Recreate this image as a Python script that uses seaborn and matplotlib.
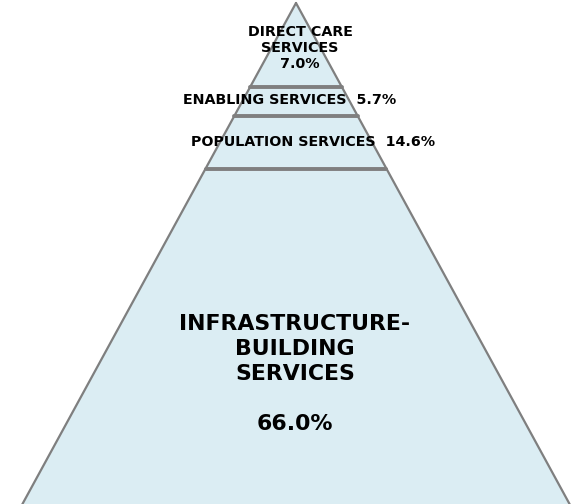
import numpy as np
import matplotlib
matplotlib.use("Agg")
import matplotlib.pyplot as plt
import seaborn as sns

# Data
categories = ["DIRECT CARE\nSERVICES", "ENABLING SERVICES", "POPULATION SERVICES", "INFRASTRUCTURE-\nBUILDING\nSERVICES"]
values = [7.0, 5.7, 14.6, 66.0]
labels = ["DIRECT CARE\nSERVICES\n7.0%", "ENABLING SERVICES  5.7%", "POPULATION SERVICES  14.6%",
          "INFRASTRUCTURE-\nBUILDING\nSERVICES\n\n66.0%"]

sns.set_theme(style="white")
plt.rcParams['font.family'] = ['DejaVu Sans']

W, H = 575, 504
fig = plt.figure(figsize=(W / 100, H / 100), dpi=100)
ax = fig.add_axes([0, 0, 1, 1])
ax.set_xlim(0, W)
ax.set_ylim(H, 0)
ax.axis("off")

apex_x, apex_y = 296, 3
k = 31.7          # px of depth per sqrt(percent) -> area-proportional layers
slope = 0.546     # half-width per px of depth
base_y = 560

fill = "#dbedf3"
edge = "#7f7f7f"

# triangle
tri_x = [apex_x, apex_x - slope * (base_y - apex_y), apex_x + slope * (base_y - apex_y), apex_x]
tri_y = [apex_y, base_y, base_y, apex_y]
ax.fill(tri_x, tri_y, color=fill, zorder=1)
ax.plot(tri_x, tri_y, color=edge, lw=1.6, zorder=2)

# boundaries (area proportional)
cum = np.cumsum(values)
bounds = apex_y + k * np.sqrt(cum[:-1])
for b in bounds:
    hw = slope * (b - apex_y)
    sns.lineplot(x=[apex_x - hw, apex_x + hw], y=[b, b], ax=ax, color=edge, lw=2.8, zorder=3)

small = 10.3
# labels
ax.text(300, 48, labels[0], ha="center", va="center", fontsize=small, fontweight="bold",
        color="black", linespacing=1.2, zorder=4)
ax.text(289.5, 100, labels[1], ha="center", va="center", fontsize=small, fontweight="bold",
        color="black", zorder=4)
ax.text(313.5, 142, labels[2], ha="center", va="center", fontsize=small, fontweight="bold",
        color="black", zorder=4)
ax.text(295, 374, labels[3], ha="center", va="center", fontsize=15.8, fontweight="bold",
        color="black", linespacing=1.32, zorder=4)

fig.savefig("out.png", dpi=100)
